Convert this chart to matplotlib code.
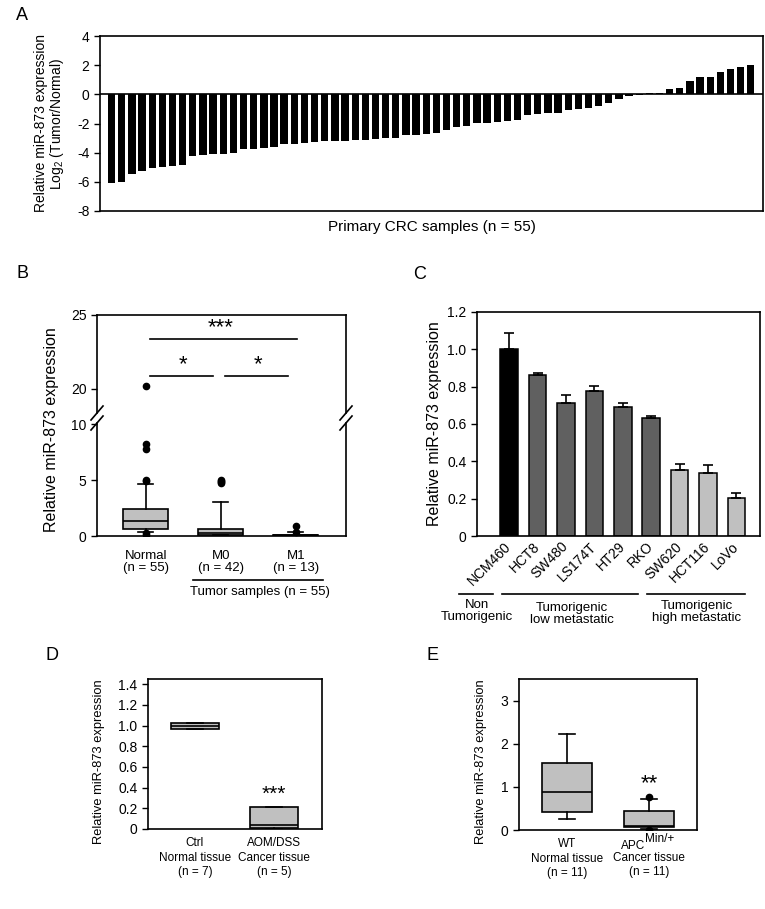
import numpy as np
import matplotlib
matplotlib.use('Agg')
import matplotlib.pyplot as plt
from matplotlib.lines import Line2D

plt.rcParams['font.family'] = ['Liberation Sans', 'DejaVu Sans']
plt.rcParams['axes.unicode_minus'] = False
plt.rcParams['mathtext.fontset'] = 'custom'
plt.rcParams['mathtext.rm'] = 'Liberation Sans'
plt.rcParams['mathtext.default'] = 'regular'
plt.rcParams['axes.linewidth'] = 1.2
plt.rcParams['xtick.direction'] = 'out'
plt.rcParams['ytick.direction'] = 'out'
plt.rcParams['ytick.major.size'] = 4
plt.rcParams['ytick.major.width'] = 1

# --- A: log2 tumor/normal per sample (sorted)
crc_log2 = [-6.11, -6.02, -5.45, -5.23, -5.02, -4.98, -4.91, -4.82, -4.25, -4.14,
            -4.07, -4.07, -4.00, -3.77, -3.75, -3.66, -3.61, -3.41, -3.41, -3.32,
            -3.30, -3.23, -3.20, -3.18, -3.16, -3.14, -3.07, -3.02, -2.98, -2.80,
            -2.77, -2.70, -2.66, -2.45, -2.23, -2.20, -1.98, -1.95, -1.91, -1.86,
            -1.75, -1.43, -1.36, -1.25, -1.25, -1.07, -1.02, -0.95, -0.82, -0.57,
            -0.32, -0.14, -0.04, 0.11, 0.11, 0.39, 0.45, 0.91, 1.18, 1.18,
            1.52, 1.73, 1.89, 2.02]

# --- B: box stats for clinical samples
b_groups = ['Normal\n(n = 55)', 'M0\n(n = 42)', 'M1\n(n = 13)']
b_whislo = [0.40, 0.05, 0.00]
b_q1 = [0.65, 0.10, 0.03]
b_med = [1.35, 0.25, 0.08]
b_q3 = [2.45, 0.60, 0.12]
b_whishi = [4.65, 3.00, 0.35]
b_fliers = [[0.25, 0.05, 4.9, 5.0, 7.8, 8.2, 20.2],
            [4.7, 4.8, 4.9, 5.0],
            [0.40, 0.85]]
b_sig = [((1, 3), '***'), ((1, 2), '*'), ((2, 3), '*')]

# --- C: cell lines
cell_lines = ['NCM460', 'HCT8', 'SW480', 'LS174T', 'HT29', 'RKO', 'SW620', 'HCT116', 'LoVo']
cell_expr = [1.0, 0.86, 0.71, 0.775, 0.69, 0.63, 0.355, 0.34, 0.205]
cell_err = [0.088, 0.013, 0.047, 0.027, 0.02, 0.012, 0.033, 0.04, 0.028]
cell_group = [0, 1, 1, 1, 1, 1, 2, 2, 2]
group_names = ['Non\nTumorigenic', 'Tumorigenic\nlow metastatic', 'Tumorigenic\nhigh metastatic']

# --- D: AOM/DSS mice
d_groups = ['Ctrl\nNormal tissue\n(n = 7)', 'AOM/DSS\nCancer tissue\n(n = 5)']
d_whislo = [0.965, 0.0]
d_q1 = [0.965, 0.01]
d_med = [1.0, 0.035]
d_q3 = [1.025, 0.215]
d_whishi = [1.025, 0.215]

# --- E: APC Min mice
e_groups = ['WT\nNormal tissue\n(n = 11)', 'Cancer tissue\n(n = 11)']
e_whislo = [0.25, 0.03]
e_q1 = [0.41, 0.07]
e_med = [0.88, 0.09]
e_q3 = [1.55, 0.45]
e_whishi = [2.23, 0.73]
e_fliers = [[], [0.77, 0.01]]

W, H = 765, 909
fig = plt.figure(figsize=(W / 100, H / 100), dpi=100)


def rect(l, t, r, b):
    return [l / W, 1 - b / H, (r - l) / W, (b - t) / H]


def ftext(x, y, s, **kw):
    fig.text(x / W, 1 - y / H, s, **kw)


def fline(x0, y0, x1, y1, lw=1.2):
    fig.add_artist(Line2D([x0 / W, x1 / W], [1 - y0 / H, 1 - y1 / H],
                          transform=fig.transFigure, color='black', lw=lw))


def stats(lo, q1, med, q3, hi, fl=None):
    out = []
    for i in range(len(lo)):
        out.append(dict(whislo=lo[i], q1=q1[i], med=med[i], q3=q3[i],
                        whishi=hi[i], fliers=fl[i] if fl else []))
    return out


box_kw = dict(widths=0.6, patch_artist=True, capwidths=0.2,
              boxprops=dict(facecolor='#c0c0c0', edgecolor='black', lw=1.2),
              medianprops=dict(color='black', lw=1.2),
              whiskerprops=dict(color='black', lw=1.2),
              capprops=dict(color='black', lw=1.2),
              flierprops=dict(marker='o', markerfacecolor='black',
                              markeredgecolor='black', markersize=4.5))

# ---------------- A
axA = fig.add_axes(rect(100, 36, 763, 211))
xa = np.arange(len(crc_log2))
axA.bar(xa, crc_log2, width=0.72, color='black')
axA.axhline(0, color='black', lw=1.2)
axA.set_xlim(-1.15, 64.2)
axA.set_ylim(-8, 4)
axA.set_yticks(range(-8, 5, 2))
axA.set_xticks([])
axA.tick_params(labelsize=10)
axA.set_ylabel('Relative miR-873 expression\nLog$_2$ (Tumor/Normal)', fontsize=10,
               linespacing=1.0)
axA.yaxis.set_label_coords(-0.052, 0.5)
axA.set_xlabel('Primary CRC samples (n = 55)', fontsize=11)
axA.xaxis.set_label_coords(0.5, -0.05)
ftext(22, 15, 'A', fontsize=13, ha='center', va='center')

# ---------------- B (broken axis)
axB1 = fig.add_axes(rect(97, 315, 346, 413))
axB2 = fig.add_axes(rect(97, 423, 346, 536))
bst = stats(b_whislo, b_q1, b_med, b_q3, b_whishi, b_fliers)
for ax in (axB1, axB2):
    ax.bxp(bst, positions=[1, 2, 3], **box_kw)
    ax.set_xlim(0.35, 3.67)
    ax.tick_params(labelsize=10)
axB1.set_ylim(25 - 98 / 14.8, 25)
axB1.set_yticks([20, 25])
axB1.set_xticks([])
axB1.spines['bottom'].set_visible(False)
axB2.set_ylim(0, 10.1)
axB2.set_yticks([0, 5, 10])
axB2.spines['top'].set_visible(False)
axB2.set_xticks([1, 2, 3])
axB2.set_xticklabels(b_groups, fontsize=9.5, linespacing=1.0)
axB2.tick_params(axis='x', length=0, pad=10)
for xs in (97, 346):
    for ys in (413, 423):
        fline(xs - 6, ys + 7, xs + 6, ys - 7)
for (g0, g1), s in b_sig:
    yb = 23.4 if s == '***' else 20.9
    axB1.plot([g0 + 0.05, g1 - 0.1 if g1 - g0 == 1 else g1 + 0.02], [yb, yb],
              color='black', lw=1.2)
    axB1.text((g0 + g1) / 2, yb + 0.05, s, ha='center', va='bottom', fontsize=16)
ftext(52, 430, 'Relative miR-873 expression', rotation=90, ha='center',
      va='center', fontsize=11.5)
fline(193, 580, 323, 580)
ftext(260, 592, 'Tumor samples (n = 55)', ha='center', va='center', fontsize=9.5)
ftext(22, 274, 'B', fontsize=13, ha='center', va='center')

# ---------------- C
axC = fig.add_axes(rect(477, 312, 760, 536))
cols = ['black', '#606060', '#c0c0c0']
xc = np.arange(len(cell_lines))
axC.bar(xc, cell_expr, width=0.62, color=[cols[g] for g in cell_group],
        edgecolor='black', lw=1.1,
        yerr=[np.zeros(len(cell_err)), cell_err],
        error_kw=dict(ecolor='black', elinewidth=1.2, capsize=3.5, capthick=1.2))
axC.set_xlim(-1.13, 8.83)
axC.set_ylim(0, 1.2)
axC.set_yticks([0, 0.2, 0.4, 0.6, 0.8, 1.0, 1.2])
axC.set_yticklabels(['0', '0.2', '0.4', '0.6', '0.8', '1.0', '1.2'])
axC.set_xticks(xc)
axC.set_xticklabels(cell_lines, rotation=45, ha='right', va='center',
                    rotation_mode='anchor')
axC.tick_params(axis='x', length=0, pad=6)
axC.tick_params(labelsize=10)
axC.set_ylabel('Relative miR-873 expression', fontsize=11.5)
axC.yaxis.set_label_coords(-0.124, 0.5)
for (x0, x1), xm, ym, name in zip([(459, 493), (502, 638), (647, 745)],
                                 [477, 572, 697], [611, 614, 612], group_names):
    fline(x0, 594, x1, 594)
    ftext(xm, ym, name, ha='center', va='center', fontsize=9.5, linespacing=1.0)
ftext(420, 275, 'C', fontsize=13, ha='center', va='center')

# ---------------- D
axD = fig.add_axes(rect(148, 679, 322, 829))
axD.bxp(stats(d_whislo, d_q1, d_med, d_q3, d_whishi), positions=[1, 2], **box_kw)
axD.set_xlim(0.405, 2.61)
axD.set_ylim(0, 1.45)
axD.set_yticks([0, 0.2, 0.4, 0.6, 0.8, 1.0, 1.2, 1.4])
axD.set_yticklabels(['0', '0.2', '0.4', '0.6', '0.8', '1.0', '1.2', '1.4'])
axD.set_xticks([1, 2])
axD.set_xticklabels(d_groups, fontsize=8.5, linespacing=1.25)
axD.tick_params(axis='x', length=0, pad=6)
axD.tick_params(axis='y', labelsize=10)
axD.set_ylabel('Relative miR-873 expression', fontsize=9.3)
axD.yaxis.set_label_coords(-0.247, 0.45)
axD.text(2, d_q3[1] + 0.03, '***', ha='center', va='bottom', fontsize=15)
ftext(52, 655, 'D', fontsize=13, ha='center', va='center')

# ---------------- E
axE = fig.add_axes(rect(519, 679, 697, 830))
axE.bxp(stats(e_whislo, e_q1, e_med, e_q3, e_whishi, e_fliers), positions=[1, 2],
        **box_kw)
axE.set_xlim(0.415, 2.585)
axE.set_ylim(0, 3.5)
axE.set_yticks([0, 1, 2, 3])
axE.set_xticks([1])
axE.set_xticklabels(e_groups[:1], fontsize=8.5, linespacing=1.25)
axE.tick_params(axis='x', length=0, pad=6)
axE.tick_params(axis='y', labelsize=10)
axE.set_ylabel('Relative miR-873 expression', fontsize=9.3)
axE.yaxis.set_label_coords(-0.18, 0.45)
axE.text(2, e_whishi[1] + 0.1, '**', ha='center', va='bottom', fontsize=16)
# second group label: APC with a readable superscript, then the rest
ftext(645, 846, 'APC', ha='right', va='center', fontsize=8.5)
ftext(645, 839, 'Min/+', ha='left', va='center', fontsize=8.5)
ftext(649, 852, e_groups[1], ha='center', va='top', fontsize=8.5, linespacing=1.25)
ftext(433, 655, 'E', fontsize=13, ha='center', va='center')

fig.savefig('out.png', dpi=100)
